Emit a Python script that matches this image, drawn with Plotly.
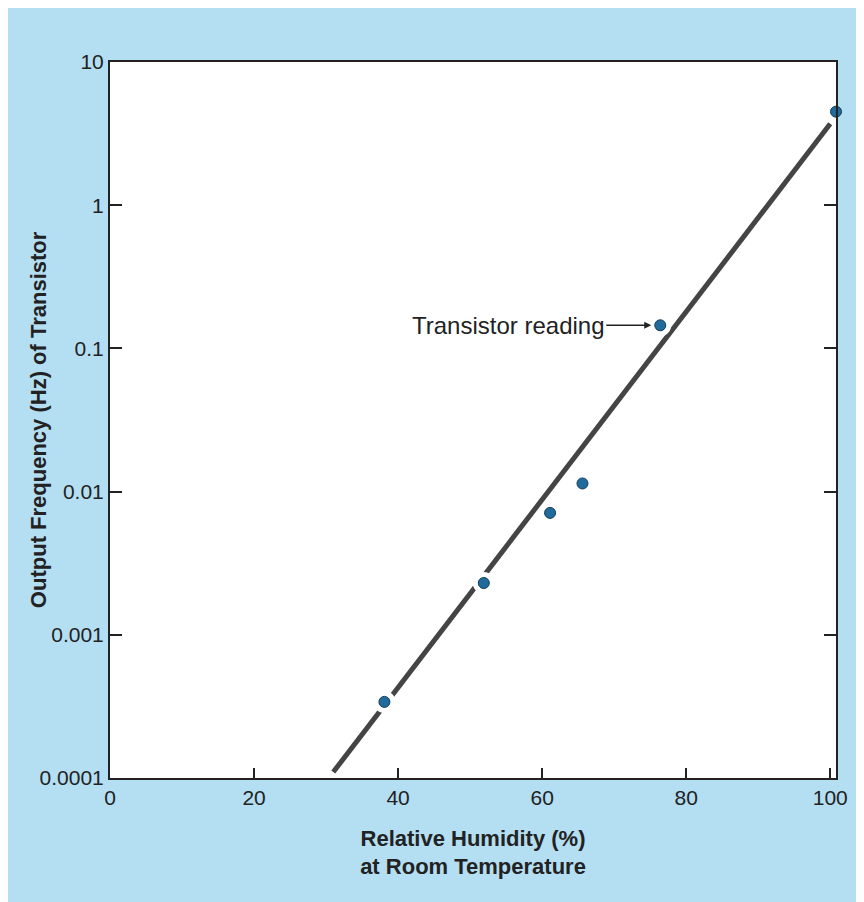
import numpy as np
import plotly.graph_objects as go

# Measured points: relative humidity (%) vs output frequency (Hz)
humidity = [38.1, 51.9, 61.1, 65.6, 76.4, 100.8]
frequency = [3.4e-4, 2.3e-3, 7.1e-3, 1.14e-2, 0.145, 4.5]

# Fitted trend line end points
fit_x = [31.0, 100.0]
fit_y = [1.1e-4, 3.7]

x_ticks = [0, 20, 40, 60, 80, 100]
y_ticks = [1e-4, 1e-3, 1e-2, 1e-1, 1, 10]
y_labels = ["0.0001", "0.001", "0.01", "0.1", "1", "10"]

page_blue = "#b4dff3"
ink = "#222222"

fig = go.Figure()

fig.add_trace(go.Scatter(x=fit_x, y=fit_y, mode="lines",
                         line=dict(color="#444444", width=5), hoverinfo="skip"))

# white halo so the line breaks around the dots that sit on it
fig.add_trace(go.Scatter(x=humidity[:5], y=frequency[:5], mode="markers",
                         marker=dict(color="white", size=22), hoverinfo="skip"))

fig.add_trace(go.Scatter(x=humidity, y=frequency, mode="markers",
                         marker=dict(color="#1f6c9c", size=11,
                                     line=dict(color="#123a55", width=1)),
                         cliponaxis=False))

fig.add_annotation(x=humidity[4], y=np.log10(frequency[4]),
                   text="Transistor reading", showarrow=True,
                   ax=-152, ay=0, arrowhead=2, arrowsize=1, arrowwidth=1.4,
                   arrowcolor=ink, standoff=9,
                   font=dict(size=24, color=ink))

# y title placed by hand so it sits closer to the axis than the standoff allows
fig.add_annotation(text="<b>Output Frequency (Hz) of Transistor</b>",
                   xref="paper", yref="paper", x=-0.099, y=0.5,
                   xanchor="center", yanchor="middle",
                   textangle=-90, showarrow=False,
                   font=dict(size=22, color=ink))

fig.update_layout(
    width=856, height=894,
    margin=dict(l=102, r=28, t=54, b=124),
    paper_bgcolor=page_blue,
    plot_bgcolor="white",
    showlegend=False,
    font=dict(family="Liberation Sans, Arial, sans-serif", size=21, color=ink),
)

fig.update_xaxes(
    range=[0, 100.8], tickvals=x_ticks, ticks="inside", ticklen=10,
    tickwidth=1.5, tickcolor=ink, showgrid=False, zeroline=False,
    showline=True, linecolor=ink, linewidth=2, mirror=True,
    tickfont=dict(size=21),
    title=dict(text="<b>Relative Humidity (%)<br>at Room Temperature</b>",
               standoff=22, font=dict(size=22)),
)

fig.update_yaxes(
    type="log", range=[-4, 1], tickvals=y_ticks, ticktext=y_labels,
    ticks="inside", ticklen=12, tickwidth=1.5, tickcolor=ink,
    showgrid=False, zeroline=False, tickfont=dict(size=21),
    showline=True, linecolor=ink, linewidth=2, mirror="allticks",
)

fig.write_html("out.html")
